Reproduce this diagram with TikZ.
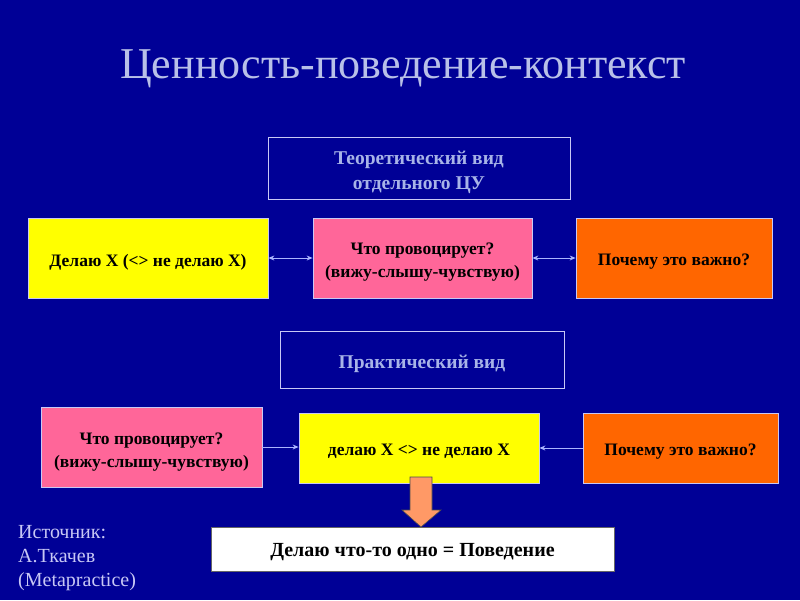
\documentclass[tikz,border=0pt]{standalone}
\usepackage{fontspec}
\usetikzlibrary{arrows.meta}
\setmainfont{Liberation Serif}
\definecolor{bg}{RGB}{0,0,150}
\definecolor{lav}{RGB}{200,200,245}
\definecolor{hdtext}{RGB}{168,180,232}
\definecolor{titlec}{RGB}{184,192,232}
\definecolor{yel}{RGB}{255,255,0}
\definecolor{pink}{RGB}{255,102,153}
\definecolor{orng}{RGB}{255,102,0}
\definecolor{arrowc}{RGB}{255,153,102}
\definecolor{linec}{RGB}{170,180,255}
\newcommand{\lowtext}[2]{\raisebox{-#1pt}[\height][\depth]{\begin{tabular}{@{}c@{}}#2\end{tabular}}}
\begin{document}
\begin{tikzpicture}[x=1pt,y=-1pt,
  every node/.style={inner sep=0pt, align=center},
  hdbox/.style={draw=lav, line width=0.8pt, text=hdtext, font=\fontsize{19.5}{25}\selectfont\bfseries},
  cbox/.style={draw=lav, line width=0.8pt, text=black, font=\fontsize{17.5}{23}\selectfont\bfseries},
  conn/.style={draw=linec, line width=0.9pt, >={Stealth[length=6pt,width=5pt]}},
  srctext/.style={text=lav, font=\fontsize{20}{24}\selectfont, align=left, anchor=north west}]
\fill[bg] (0,0) rectangle (800,600);
\useasboundingbox (0,0) rectangle (800,600);
\node[text=titlec, font=\fontsize{44}{46}\selectfont] (title) at (403,69) {Ценность-поведение-контекст};
\node[hdbox, minimum width=302, minimum height=62] (th) at (419,168) {\lowtext{4}{Теоретический вид\\отдельного ЦУ}};
\node[cbox, fill=yel, minimum width=240, minimum height=80] (y1) at (148,258) {\lowtext{4}{Делаю X (<> не делаю X)}};
\node[cbox, fill=pink, minimum width=219, minimum height=80] (p1) at (422.5,258) {\lowtext{3}{Что провоцирует?\\(вижу-слышу-чувствую)}};
\node[cbox, fill=orng, minimum width=196, minimum height=80] (o1) at (674,258) {\lowtext{3}{Почему это важно?}};
\node[hdbox, minimum width=284, minimum height=57] (pr) at (422,359.5) {\lowtext{4}{Практический вид}};
\node[cbox, fill=pink, minimum width=221, minimum height=80] (p2) at (151.5,447) {\lowtext{4}{Что провоцирует?\\(вижу-слышу-чувствую)}};
\node[cbox, fill=yel, minimum width=240, minimum height=70] (y2) at (419,448) {\lowtext{3}{делаю X <> не делаю X}};
\node[cbox, fill=orng, minimum width=195, minimum height=70] (o2) at (680.5,448) {\lowtext{3}{Почему это важно?}};
\node[cbox, draw=black!60, fill=white, minimum width=403, minimum height=44, font=\fontsize{20}{24}\selectfont\bfseries] (wb) at (412.5,549) {\lowtext{3}{Делаю что-то одно = Поведение}};
\draw[conn,<->] (y1) -- (p1);
\draw[conn,<->] (p1) -- (o1);
\draw[conn,->] (p2.east) -- (p2.east -| y2.west);
\draw[conn,->] (o2.west) -- (o2.west -| y2.east);
\fill[arrowc, draw=black!70, line width=0.6pt] (410,477) -- (432,477) -- (432,510) -- (441,510) -- (421,527) -- (402,510) -- (410,510) -- cycle;
\node[srctext] (src) at (18,525) {Источник:\\А.Ткачев\\(Metapractice)};
\end{tikzpicture}
\end{document}
